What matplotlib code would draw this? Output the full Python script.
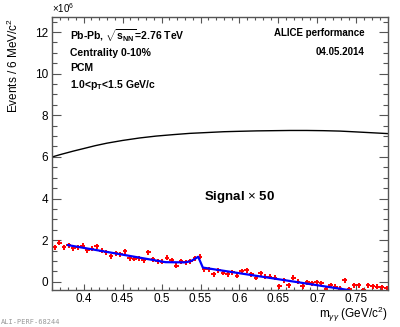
import numpy as np
import matplotlib
matplotlib.use("Agg")
import matplotlib.pyplot as plt
from matplotlib.ticker import MultipleLocator

plt.rcParams['font.family'] = ['Liberation Sans', 'DejaVu Sans']
plt.rcParams['mathtext.fontset'] = 'custom'
plt.rcParams['mathtext.rm'] = 'Liberation Sans'
plt.rcParams['mathtext.it'] = 'Liberation Sans:italic'
plt.rcParams['mathtext.bf'] = 'Liberation Sans:bold'

# ---------------- data (units of 10^6) ----------------
bin_width = 0.006
bin_centers = np.arange(0.363, 0.790, bin_width)
signal_x50 = [1.65, 1.87, 1.65, 1.76, 1.60, 1.65, 1.74, 1.52, 1.58, 1.71,
              1.49, 1.42, 1.23, 1.36, 1.31, 1.46, 1.14, 1.10, 1.14, 1.04,
              1.41, 1.07, 0.99, 0.96, 1.15,
              1.04, 0.77, 0.99, 0.93, 0.99, 1.12, 1.20, 0.59, 0.59, 0.35,
              0.56, 0.43, 0.37, 0.45, 0.29, 0.51, 0.56, 0.37, 0.19, 0.40,
              0.24, 0.24, 0.19, -0.21, 0.08,
              -0.16, 0.19, 0.00, -0.21, -0.03, -0.08, -0.03, -0.08, -0.34, -0.16,
              -0.24, -0.34, 0.08, -0.37, -0.16, -0.16, -0.40, -0.16, -0.21, -0.24,
              -0.27, -0.32]
signal_err = 0.12

fit_x = [0.380, 0.505, 0.530, 0.537, 0.542, 0.547, 0.553, 0.740]
fit_y = [1.76, 0.94, 0.93, 0.98, 1.08, 1.20, 0.68, -0.40]

bg_x = [0.360, 0.370, 0.387, 0.400, 0.415, 0.430, 0.450, 0.472, 0.493, 0.515,
        0.536, 0.558, 0.580, 0.600, 0.622, 0.643, 0.665, 0.686, 0.708, 0.729,
        0.750, 0.770, 0.790]
bg_y = [6.00, 6.11, 6.28, 6.40, 6.54, 6.66, 6.79, 6.91, 7.00, 7.07,
        7.13, 7.17, 7.21, 7.23, 7.25, 7.26, 7.27, 7.27, 7.26, 7.24,
        7.20, 7.16, 7.12]

xticks = [0.4, 0.45, 0.5, 0.55, 0.6, 0.65, 0.7, 0.75]
xticklabels = ['0.4', '0.45', '0.5', '0.55', '0.6', '0.65', '0.7', '0.75']
yticks = [0, 2, 4, 6, 8, 10, 12]

# ---------------- figure ----------------
fig = plt.figure(figsize=(4.0, 3.27), dpi=100)
ax = fig.add_axes([0.131, 0.113, 0.838, 0.8335])

ax.plot(bg_x, bg_y, color='black', lw=1.0)
ax.errorbar(bin_centers[:len(signal_x50)], signal_x50, xerr=bin_width / 2, yerr=signal_err,
            fmt='none', ecolor='#ff0000', elinewidth=1.4, capsize=0)
ax.plot(fit_x, fit_y, color='#0000ff', lw=1.6)

ax.set_xlim(0.36, 0.79)
ax.set_ylim(-0.4, 12.7)

ax.set_xticks(xticks)
ax.set_xticklabels(xticklabels)
ax.set_yticks(yticks)
ax.xaxis.set_minor_locator(MultipleLocator(0.01))
ax.yaxis.set_minor_locator(MultipleLocator(0.5))

ax.tick_params(axis='both', which='both', direction='in', top=True, right=True,
               labelsize=8.5, color='#555555', pad=3)
ax.tick_params(axis='x', which='major', pad=2)
ax.tick_params(axis='y', which='major', length=6.5, width=0.8)
ax.tick_params(axis='y', which='minor', length=3.3, width=0.8)
ax.tick_params(axis='x', which='major', length=4.5, width=0.8)
ax.tick_params(axis='x', which='minor', length=2.3, width=0.8)
for s in ax.spines.values():
    s.set_color('#555555')
    s.set_linewidth(1.0)

ax.set_ylabel('Events / 6 MeV/c$^{2}$', fontsize=8.5, loc='top', labelpad=10)

fig.text(0.969, 0.040, r'm$_{\gamma\gamma}$ (GeV/c$^{2}$)', fontsize=8.5, ha='right', va='center')

fig.text(0.131, 0.975, r'$\times$10$^{6}$', fontsize=7, ha='left', va='center')

fs = 7.5
fig.text(0.175, 0.890, r'Pb-Pb, $\sqrt{\mathbf{s}_{\mathbf{NN}}}$=2.76 TeV', fontsize=fs,
         fontweight='bold', ha='left', va='center')
fig.text(0.175, 0.839, 'Centrality 0-10%', fontsize=fs, fontweight='bold', ha='left', va='center')
fig.text(0.175, 0.791, 'PCM', fontsize=fs, fontweight='bold', ha='left', va='center')
fig.text(0.175, 0.740, r'1.0<$\mathbf{p}_{\mathbf{T}}$<1.5 GeV/c', fontsize=fs,
         fontweight='bold', ha='left', va='center')

fig.text(0.912, 0.898, 'ALICE performance', fontsize=7, fontweight='bold', ha='right', va='center')
fig.text(0.912, 0.842, '04.05.2014', fontsize=7, fontweight='bold', ha='right', va='center')

fig.text(0.600, 0.398, r'Signal $\times$ 50', fontsize=9.5, fontweight='bold', ha='center', va='center')

fig.text(0.003, 0.016, 'ALI-PERF-68244', fontsize=5, color='#999999', ha='left', va='center',
         family='DejaVu Sans Mono')

fig.savefig('out.png', dpi=100)
